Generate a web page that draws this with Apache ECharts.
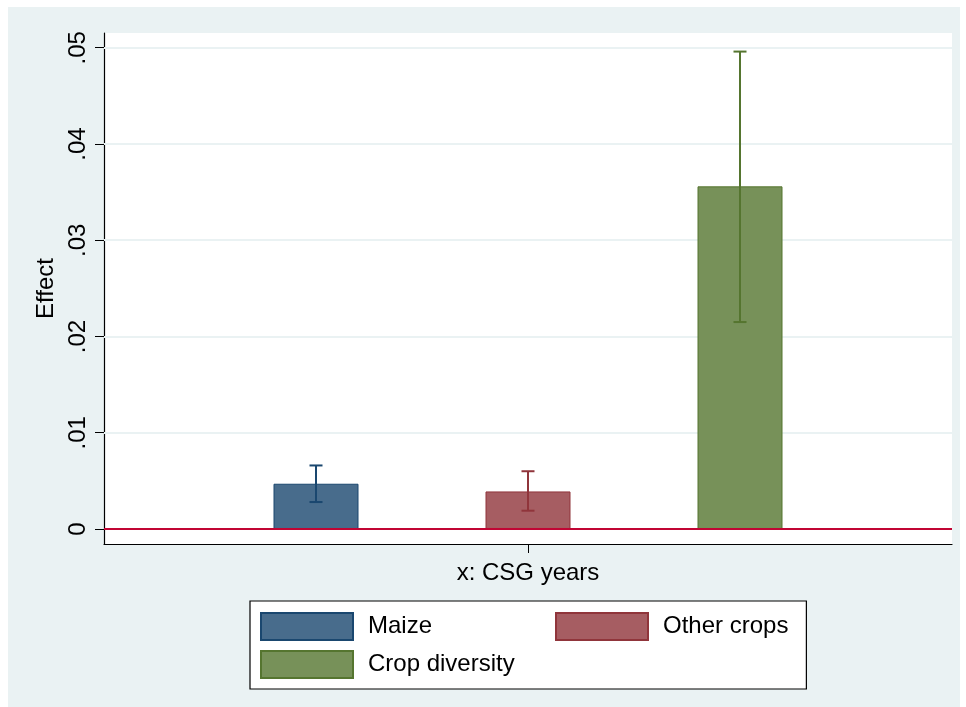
<!DOCTYPE html>
<html>
<head>
<meta charset="utf-8">
<script src="https://cdn.jsdelivr.net/npm/echarts@6/dist/echarts.min.js"></script>
<style>
  html, body { margin: 0; padding: 0; background: #ffffff; }
  #chart { position: absolute; left: 8px; top: 7px; width: 952px; height: 700px; }
</style>
</head>
<body>
<div id="chart"></div>
<script>
// Estimated effects (bar heights) with confidence bounds, one bar per outcome
const categories = ['Maize', 'Other crops', 'Crop diversity'];
const effects = [0.0047, 0.0039, 0.0356];
const ciLow = [0.0028, 0.0019, 0.0215];
const ciHigh = [0.0066, 0.0060, 0.0496];

// y-axis ticks and their printed labels
const yTickValues = [0, 0.01, 0.02, 0.03, 0.04, 0.05];
const yTickLabels = ['0', '.01', '.02', '.03', '.04', '.05'];
const xAxisTitle = 'x: CSG years';
const yAxisTitle = 'Effect';

// styling
const fillColors = ['#486C8C', '#A65D62', '#779159'];
const lineColors = ['#1A476F', '#90353B', '#55752F'];
const FONT = 'Liberation Sans, Arial, sans-serif';

const chart = echarts.init(document.getElementById('chart'), null, { renderer: 'canvas' });

const barSeries = categories.map((name, i) => ({
  name: name,
  type: 'bar',
  z: 2,
  barWidth: 85,
  barGap: '-100%',
  data: [[i + 1, effects[i]]],
  itemStyle: { color: fillColors[i], borderColor: lineColors[i], borderWidth: 1 }
}));

const option = {
  animation: false,
  backgroundColor: '#EAF2F3',
  textStyle: { fontFamily: FONT },
  grid: {
    left: 96, top: 26, width: 848, height: 511,
    show: true, backgroundColor: '#ffffff', borderWidth: 0
  },
  xAxis: {
    type: 'value',
    min: 0, max: 4,
    name: xAxisTitle,
    nameLocation: 'middle',
    nameGap: 17,
    nameTextStyle: { fontSize: 24, color: '#000', fontFamily: FONT, verticalAlign: 'top' },
    axisLine: { onZero: false, lineStyle: { color: '#000', width: 1.2 } },
    axisTick: { show: true, length: 9, customValues: [2], lineStyle: { color: '#000', width: 1 } },
    axisLabel: { show: false },
    splitLine: { show: false }
  },
  yAxis: {
    type: 'value',
    min: -0.00156, max: 0.05153,
    name: yAxisTitle,
    nameLocation: 'middle',
    nameRotate: 90,
    nameGap: 41,
    nameTextStyle: { fontSize: 24, color: '#000', fontFamily: FONT },
    axisLine: { show: true, lineStyle: { color: '#000', width: 1.2 } },
    axisTick: { show: true, length: 9, customValues: yTickValues, lineStyle: { color: '#000', width: 1 } },
    axisLabel: {
      customValues: yTickValues,
      rotate: 90,
      margin: 14,
      fontSize: 24,
      color: '#000',
      fontFamily: FONT,
      formatter: v => {
        const k = yTickValues.findIndex(t => Math.abs(t - v) < 1e-9);
        return k >= 0 ? yTickLabels[k] : '';
      }
    },
    splitLine: { show: false }
  },
  legend: {
    // first column gets a fixed text width so the second column lines up
    data: categories.map((name, i) => i === 0 ? { name: name, textStyle: { width: 178 } } : { name: name }),
    left: 242, top: 594,
    orient: 'horizontal',
    width: 560,
    padding: [11, 18, 10, 10],
    itemGap: 9,
    itemWidth: 92, itemHeight: 27,
    icon: 'rect',
    borderColor: '#000', borderWidth: 1.2,
    backgroundColor: '#ffffff',
    selectedMode: false,
    textStyle: {
      fontSize: 24, color: '#000', fontFamily: FONT,
      lineHeight: 27,
      padding: [0, 0, 0, 10]
    }
  },
  series: [
    // light horizontal gridlines behind the bars
    {
      type: 'line', z: 1, data: [], silent: true,
      markLine: {
        z: 1,
        silent: true, symbol: 'none', label: { show: false },
        lineStyle: { color: '#EAF2F3', width: 2, type: 'solid' },
        data: yTickValues.slice(1).map(v => ({ yAxis: v }))
      }
    },
    ...barSeries,
    // confidence intervals
    {
      type: 'custom',
      z: 4,
      silent: true,
      data: categories.map((c, i) => [i + 1, ciLow[i], ciHigh[i]]),
      renderItem: (params, api) => {
        const x = api.value(0);
        const lo = api.coord([x, api.value(1)]);
        const hi = api.coord([x, api.value(2)]);
        const c = lineColors[params.dataIndex];
        const hw = 6.5;
        const st = { stroke: c, lineWidth: 2 };
        return {
          type: 'group',
          children: [
            { type: 'line', shape: { x1: lo[0], y1: lo[1], x2: hi[0], y2: hi[1] }, style: st },
            { type: 'line', shape: { x1: hi[0] - hw, y1: hi[1], x2: hi[0] + hw, y2: hi[1] }, style: st },
            { type: 'line', shape: { x1: lo[0] - hw, y1: lo[1], x2: lo[0] + hw, y2: lo[1] }, style: st }
          ]
        };
      }
    },
    // reference line at zero
    {
      type: 'line', z: 3, data: [], silent: true,
      markLine: {
        z: 5,
        silent: true, symbol: 'none', label: { show: false },
        lineStyle: { color: '#C10534', width: 2, type: 'solid' },
        data: [{ yAxis: 0 }]
      }
    }
  ]
};

chart.setOption(option);
</script>
</body>
</html>
